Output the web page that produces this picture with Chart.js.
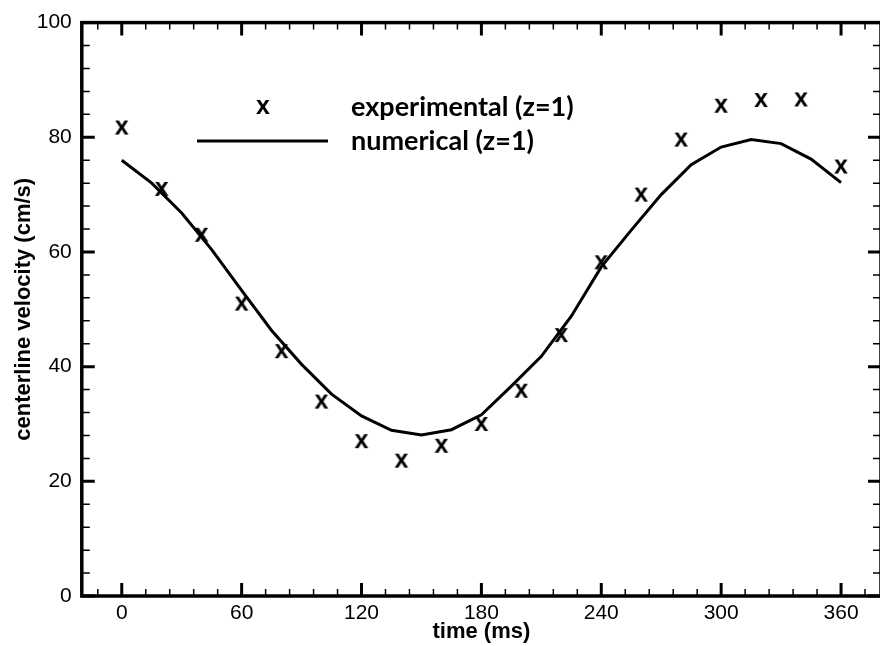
<!DOCTYPE html>
<html>
<head>
<meta charset="utf-8">
<script src="https://cdn.jsdelivr.net/npm/chart.js@4.4.1/dist/chart.umd.min.js"></script>
<style>
html, body { margin: 0; padding: 0; background: #fff; overflow: hidden; }
#wrap { width: 890px; height: 646px; }
</style>
</head>
<body>
<div id="wrap"><canvas id="myChart" width="890" height="646"></canvas></div>
<script>
// experimental points, every 20 ms
const expTime = [0, 20, 40, 60, 80, 100, 120, 140, 160, 180, 200, 220, 240, 260, 280, 300, 320, 340, 360];
const expVelocity = [81.7, 71.0, 63.0, 51.0, 42.7, 33.9, 27.0, 23.6, 26.2, 30.0, 35.8, 45.5, 58.2, 70.0, 79.6, 85.5, 86.5, 86.6, 74.9];

// numerical curve, every 15 ms
const numTime = [0, 15, 30, 45, 60, 75, 90, 105, 120, 135, 150, 165, 180, 195, 210, 225, 240, 255, 270, 285, 300, 315, 330, 345, 360];
const numVelocity = [76.0, 72.0, 66.8, 60.4, 53.3, 46.3, 40.4, 35.2, 31.4, 28.9, 28.1, 29.0, 31.6, 36.6, 41.8, 48.8, 57.4, 63.8, 70.0, 75.2, 78.3, 79.6, 78.9, 76.2, 72.1];

const xTickLabels = [0, 60, 120, 180, 240, 300, 360];
const yTickLabels = [0, 20, 40, 60, 80, 100];

const sans = '"Liberation Sans", Arial, sans-serif';

// the "x" symbol, drawn as a bold letter like the plotting program does
function makeMarker() {
    const c = document.createElement('canvas');
    c.width = 24;
    c.height = 24;
    const g = c.getContext('2d');
    g.font = 'bold 25px ' + sans;
    g.fillStyle = '#000';
    g.textAlign = 'center';
    g.textBaseline = 'alphabetic';
    g.fillText('x', 12, 12 + 0.52 * 25 / 2);
    return c;
}
const marker = makeMarker();

// frame with inward ticks on all four sides
const frameTicks = {
    id: 'frameTicks',
    beforeDatasetsDraw(chart) {
        const { ctx, chartArea: { left, right, top, bottom }, scales: { x, y } } = chart;
        ctx.save();
        ctx.strokeStyle = '#000';
        ctx.lineCap = 'butt';

        // minor ticks
        ctx.lineWidth = 1.5;
        ctx.beginPath();
        for (let v = -12; v <= 372; v += 12) {
            if (v % 60 === 0) continue;
            const px = x.getPixelForValue(v);
            ctx.moveTo(px, bottom); ctx.lineTo(px, bottom - 7);
            ctx.moveTo(px, top); ctx.lineTo(px, top + 7);
        }
        for (let v = 4; v < 100; v += 4) {
            if (v % 20 === 0) continue;
            const py = y.getPixelForValue(v);
            ctx.moveTo(left, py); ctx.lineTo(left + 8, py);
            ctx.moveTo(right, py); ctx.lineTo(right - 8, py);
        }
        ctx.stroke();

        // major ticks
        ctx.lineWidth = 3;
        ctx.beginPath();
        xTickLabels.forEach(v => {
            const px = x.getPixelForValue(v);
            ctx.moveTo(px, bottom); ctx.lineTo(px, bottom - 13);
            ctx.moveTo(px, top); ctx.lineTo(px, top + 13);
        });
        yTickLabels.forEach(v => {
            const py = y.getPixelForValue(v);
            ctx.moveTo(left, py); ctx.lineTo(left + 13, py);
            ctx.moveTo(right, py); ctx.lineTo(right - 13, py);
        });
        ctx.stroke();

        // box
        ctx.lineWidth = 3.5;
        ctx.strokeRect(left, top, right - left, bottom - top);
        ctx.restore();
    }
};

// legend sitting inside the plot
const insideLegend = {
    id: 'insideLegend',
    afterDraw(chart) {
        const ctx = chart.ctx;
        ctx.save();
        ctx.drawImage(marker, 263 - marker.width / 2, 107 - marker.height / 2);
        ctx.strokeStyle = '#000';
        ctx.lineWidth = 3;
        ctx.beginPath();
        ctx.moveTo(197, 141);
        ctx.lineTo(328, 141);
        ctx.stroke();
        ctx.fillStyle = '#000';
        ctx.font = 'bold 27px Lato, sans-serif';
        ctx.textAlign = 'left';
        ctx.textBaseline = 'middle';
        ctx.fillText(chart.data.datasets[0].label, 351, 107);
        ctx.fillText(chart.data.datasets[1].label, 351, 141);
        ctx.restore();
    }
};

const data = {
    datasets: [{
        label: 'experimental (z=1)',
        type: 'scatter',
        data: expTime.map((t, i) => ({ x: t, y: expVelocity[i] })),
        pointStyle: marker,
        pointRadius: 8,
        showLine: false,
        order: 0
    }, {
        label: 'numerical (z=1)',
        type: 'line',
        data: numTime.map((t, i) => ({ x: t, y: numVelocity[i] })),
        borderColor: '#000',
        borderWidth: 3,
        pointRadius: 0,
        tension: 0,
        fill: false,
        order: 1
    }]
};

const config = {
    type: 'scatter',
    data: data,
    options: {
        responsive: false,
        animation: false,
        devicePixelRatio: 1,
        // right edge of the box falls just outside the visible window, as in the original
        layout: { padding: { top: 19, right: 0, left: 0, bottom: 0 } },
        plugins: {
            legend: { display: false },
            tooltip: { enabled: false }
        },
        scales: {
            x: {
                type: 'linear',
                position: 'bottom',
                min: -20,
                max: 380,
                afterBuildTicks: scale => { scale.ticks = xTickLabels.map(v => ({ value: v })); },
                afterFit: scale => { scale.height = 50; },
                ticks: { font: { family: sans, size: 21 }, color: '#000', padding: 5, autoSkip: false, maxRotation: 0 },
                grid: { display: false, drawTicks: false },
                border: { display: false },
                title: {
                    display: true,
                    text: 'time (ms)',
                    color: '#000',
                    font: { family: sans, size: 22, weight: 'bold' },
                    padding: { top: 0, bottom: 1 }
                }
            },
            y: {
                type: 'linear',
                position: 'left',
                min: 0,
                max: 100,
                afterBuildTicks: scale => { scale.ticks = yTickLabels.map(v => ({ value: v })); },
                afterFit: scale => { scale.width = 81.8; },
                ticks: { font: { family: sans, size: 21 }, color: '#000', padding: 10 },
                grid: { display: false, drawTicks: false },
                border: { display: false },
                title: {
                    display: true,
                    text: 'centerline velocity (cm/s)',
                    color: '#000',
                    font: { family: sans, size: 22, weight: 'bold' },
                    padding: { top: 11, bottom: 0 }
                }
            }
        }
    },
    plugins: [frameTicks, insideLegend]
};

const myChart = new Chart(document.getElementById('myChart'), config);
</script>
</body>
</html>
